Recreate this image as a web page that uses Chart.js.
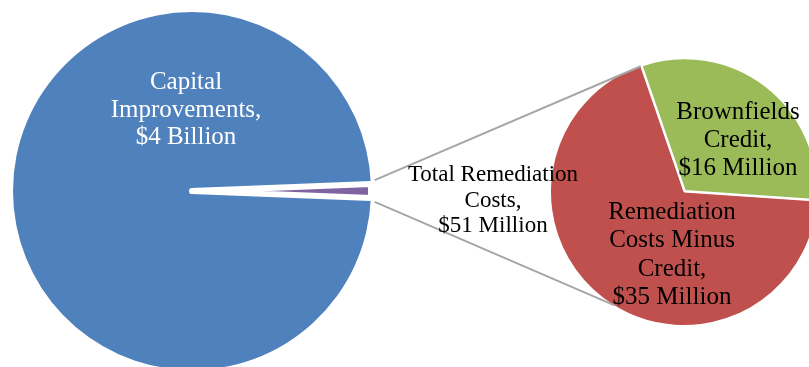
<!DOCTYPE html>
<html>
<head>
<meta charset="utf-8">
<script src="https://cdn.jsdelivr.net/npm/chart.js@4.4.0/dist/chart.umd.min.js"></script>
<style>
  html, body { margin: 0; padding: 0; background: #fff; overflow: hidden; width: 809px; height: 367px; }
  canvas { position: absolute; left: 0; top: 0; }
</style>
</head>
<body>
<canvas id="mainPie" width="809" height="382"></canvas>
<canvas id="subPie" width="809" height="382"></canvas>
<script>
// ==== Data ($ millions) ====
const mainLabels = ["Capital Improvements", "Total Remediation Costs"];
const mainValues = [4000, 51];
const mainText = [["Capital", "Improvements,", "$4 Billion"], ["Total Remediation", "Costs,", "$51 Million"]];

const subLabels = ["Remediation Costs Minus Credit", "Brownfields Credit"];
const subValues = [35, 16];
const subText = [["Remediation", "Costs Minus", "Credit,", "$35 Million"], ["Brownfields", "Credit,", "$16 Million"]];

// ==== Colors ====
const mainColors = ["#4F81BD", "#8064A2"];
const subColors = ["#C0504D", "#9BBB59"];
const FONT = '"Liberation Serif", "DejaVu Serif", serif';

const sum = arr => arr.reduce((a, b) => a + b, 0);

// purple slice centered on 3 o'clock
const smallDeg = mainValues[1] / sum(mainValues) * 360;
const mainRotation = 90 - 360 + smallDeg / 2;

// green slice starts a bit left of 12 o'clock, red follows it
const greenDeg = subValues[1] / sum(subValues) * 360;
const subRotation = -19 + greenDeg;

// ==== Plugins ====
const sliceText = {
  id: "sliceText",
  afterDatasetsDraw(chart, args, opts) {
    const ctx = chart.ctx;
    const arcs = chart.getDatasetMeta(0).data;
    ctx.save();
    ctx.textAlign = "center";
    ctx.textBaseline = "middle";
    opts.items.forEach(item => {
      const arc = arcs[item.index];
      ctx.font = item.size + "px " + FONT;
      ctx.fillStyle = item.color;
      const x = arc.x + item.dx;
      const y0 = arc.y + item.dy - (item.lines.length - 1) * item.lh / 2;
      item.lines.forEach((t, i) => ctx.fillText(t, x, y0 + i * item.lh));
    });
    ctx.restore();
  }
};

let mainChart;

const seriesLines = {
  id: "seriesLines",
  afterDatasetsDraw(chart) {
    const ctx = chart.ctx;
    const small = mainChart.getDatasetMeta(0).data[1];
    const red = chart.getDatasetMeta(0).data[0];
    const r0 = small.outerRadius + 4;
    const a1 = small.startAngle - 0.02;
    const a2 = small.endAngle + 0.02;
    const b1 = red.endAngle;
    const b2 = (211.5 - 90) * Math.PI / 180;
    ctx.save();
    ctx.strokeStyle = "#A6A6A6";
    ctx.lineWidth = 2;
    ctx.beginPath();
    ctx.moveTo(small.x + r0 * Math.cos(a1), small.y + r0 * Math.sin(a1));
    ctx.lineTo(red.x + red.outerRadius * Math.cos(b1), red.y + red.outerRadius * Math.sin(b1));
    ctx.moveTo(small.x + r0 * Math.cos(a2), small.y + r0 * Math.sin(a2));
    ctx.lineTo(red.x + red.outerRadius * Math.cos(b2), red.y + red.outerRadius * Math.sin(b2));
    ctx.stroke();

    // label for the purple slice, sits between the two pies
    ctx.font = "23px " + FONT;
    ctx.fillStyle = "#000";
    ctx.textAlign = "center";
    ctx.textBaseline = "middle";
    const lines = mainText[1];
    lines.forEach((t, i) => ctx.fillText(t, 493, small.y - 16 + i * 25.5));
    ctx.restore();
  }
};

// ==== Main pie ====
mainChart = new Chart(document.getElementById("mainPie"), {
  type: "pie",
  data: {
    labels: mainLabels,
    datasets: [{
      data: mainValues,
      backgroundColor: mainColors,
      borderColor: "#ffffff",
      borderWidth: [0, 6],
      borderJoinStyle: "round",
      radius: 179,
      rotation: mainRotation
    }]
  },
  options: {
    responsive: false,
    animation: false,
    layout: { padding: { left: 0, right: 425, top: 0, bottom: 0 } },
    plugins: {
      legend: { display: false },
      tooltip: { enabled: false },
      sliceText: {
        items: [{ index: 0, lines: mainText[0], dx: -6, dy: -81, size: 25, lh: 27.5, color: "#ffffff" }]
      }
    }
  },
  plugins: [sliceText]
});

// ==== Secondary pie ====
new Chart(document.getElementById("subPie"), {
  type: "pie",
  data: {
    labels: subLabels,
    datasets: [{
      data: subValues,
      backgroundColor: subColors,
      borderColor: "#ffffff",
      borderWidth: [0, 2.5],
      borderJoinStyle: "round",
      offset: [0, 4],
      radius: 133,
      rotation: subRotation
    }]
  },
  options: {
    responsive: false,
    animation: false,
    layout: { padding: { left: 559, right: 0, top: 2, bottom: 0 } },
    plugins: {
      legend: { display: false },
      tooltip: { enabled: false },
      sliceText: {
        items: [
          { index: 1, lines: subText[1], dx: 54, dy: -52, size: 25, lh: 28, color: "#000000" },
          { index: 0, lines: subText[0], dx: -12, dy: 63, size: 25, lh: 28.5, color: "#000000" }
        ]
      }
    }
  },
  plugins: [seriesLines, sliceText]
});
</script>
</body>
</html>
